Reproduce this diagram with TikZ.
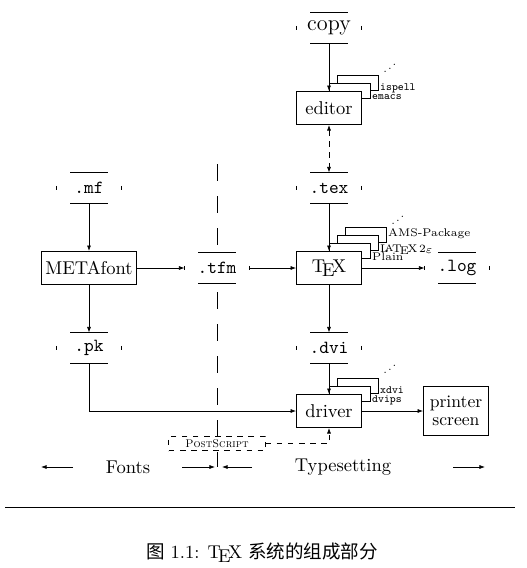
\documentclass[tikz,border=0pt]{standalone}
\usepackage{fontspec}
\usepackage{graphicx}
\newfontfamily\cjk{Noto Sans CJK SC}
\usetikzlibrary{arrows.meta,calc,positioning}
\pgfdeclarelayer{bg}
\pgfsetlayers{bg,main}

\tikzset{
  box/.style={draw, fill=white, minimum width=35pt, minimum height=17.8pt, inner sep=2pt},
  file/.style={minimum width=34.6pt, minimum height=16.2pt, inner sep=0pt,
    append after command={\pgfextra{
      \draw ($(\tikzlastnode.north west)+(7.5pt,0pt)$) -- ($(\tikzlastnode.north east)+(-7.5pt,0pt)$)
            ($(\tikzlastnode.south west)+(7.5pt,0pt)$) -- ($(\tikzlastnode.south east)+(-7.5pt,0pt)$)
            ($(\tikzlastnode.west)+(0pt,1.1pt)$) -- ($(\tikzlastnode.west)+(0pt,-1.1pt)$)
            ($(\tikzlastnode.east)+(0pt,1.1pt)$) -- ($(\tikzlastnode.east)+(0pt,-1.1pt)$);}}},
  tool/.style={anchor=base west, inner sep=0pt, font=\fontsize{6}{7}\selectfont\ttfamily},
  pkg/.style={anchor=base west, inner sep=0pt, font=\fontsize{6}{7}\selectfont},
  more/.style={inner sep=0pt}
}

\begin{document}
\begin{tikzpicture}[x=0.54pt, y=-0.54pt, line width=0.5pt, >={Latex[length=3pt,width=2.2pt]}]
  \useasboundingbox (0,0) rectangle (526,568);

  % typesetting side
  \node[file, font=\large] (copy) at (329,28) {copy};
  \node[box] (editor) at (329,108) {editor};
  \node[file] (tex) at (329,188) {\texttt{.tex}};
  \node[box] (TeX) at (329,268) {\TeX};
  \node[file] (log) at (457,268) {\texttt{.log}};
  \node[file] (dvi) at (329,348) {\texttt{.dvi}};
  \node[box] (driver) at (329,411) {driver};
  \node[box, minimum height=26.5pt, align=center, font=\fontsize{9.5}{9.5}\selectfont] (printer) at (456,411) {printer\\screen};

  % fonts side
  \node[file] (mf) at (89,188) {\texttt{.mf}};
  \node[box] (metafont) at (89,268) {METAfont};
  \node[file] (tfm) at (217,268) {\texttt{.tfm}};
  \node[file] (pk) at (89,348) {\texttt{.pk}};
  \node[draw, dashed, fill=white, minimum width=52pt, minimum height=8pt, inner sep=1pt,
        font=\fontsize{6}{7}\selectfont] (ps) at (217,443.5) {\textsc{PostScript}};

  \coordinate (divtop) at (217,164);
  \coordinate (divbot) at (217,467);

  % stacked programs behind the boxes
  \begin{pgfonlayer}{bg}
    \draw[dash pattern=on 9.2pt off 8.1pt] (divtop) -- (divbot);
    \fill[white] (tfm.south west) rectangle (tfm.north east);
    \foreach \k/\dy/\lab in {2/0/ispell,1/1/emacs} {
      \draw[fill=white] ($(editor.north)+(8*\k-8,-8*\k)$) rectangle ($(editor.north east)+(8*\k,15-8*\k)$);
      \node[tool] (ed\k) at ($(editor.north east)+(8*\k+2,15-8*\k+\dy)$) {\lab};
    }
    \foreach \k/\dy/\lab in {3/-6/AMS-Package,2/2/\LaTeXe,1/2/Plain} {
      \draw[fill=white] ($(TeX.north)+(8*\k-8,-8*\k)$) rectangle ($(TeX.north east)+(8*\k,15-8*\k)$);
      \node[pkg] (fmt\k) at ($(TeX.north east)+(8*\k+2,15-8*\k+\dy)$) {\lab};
    }
    \foreach \k/\dy/\lab in {2/0/xdvi,1/1/dvips} {
      \draw[fill=white] ($(driver.north)+(8*\k-8,-8*\k)$) rectangle ($(driver.north east)+(8*\k,15-8*\k)$);
      \node[tool] (drv\k) at ($(driver.north east)+(8*\k+2,15-8*\k+\dy)$) {\lab};
    }
  \end{pgfonlayer}
  \node[more] (eddots) at ($(editor.north east)+(28,-26)$) {\scalebox{0.65}{\reflectbox{$\ddots$}}};
  \node[more] (fmtdots) at ($(TeX.north east)+(36,-34)$) {\scalebox{0.65}{\reflectbox{$\ddots$}}};
  \node[more] (drvdots) at ($(driver.north east)+(28,-28)$) {\scalebox{0.65}{\reflectbox{$\ddots$}}};

  % connections
  \draw[->] (copy) -- (editor);
  \draw[<->, dashed] (editor) -- (tex);
  \draw[->] (tex) -- (TeX);
  \draw[->] (TeX) -- (log);
  \draw[->] (TeX) -- (dvi);
  \draw[->] (dvi) -- (driver);
  \draw[->] (driver) -- (printer);
  \draw[->] (mf) -- (metafont);
  \draw[->] (metafont) -- (tfm);
  \draw[->] (tfm) -- (TeX);
  \draw[->] (metafont) -- (pk);
  \draw[->] (pk) |- (driver);
  \draw[->, dashed] (ps) -| (driver);

  % the two halves
  \node (fonts) at (128,467) {Fonts};
  \node (typeset) at (343,467) {Typesetting};
  \coordinate (fonts-a) at (73,467);
  \coordinate (fonts-b) at (41,467);
  \coordinate (fonts-c) at (182,467);
  \coordinate (fonts-d) at (215,467);
  \coordinate (type-a) at (252,467);
  \coordinate (type-b) at (222,467);
  \coordinate (type-c) at (453,467);
  \coordinate (type-d) at (485,467);
  \draw[->] (fonts-a) -- (fonts-b);
  \draw[->] (fonts-c) -- (fonts-d);
  \draw[->] (type-a) -- (type-b);
  \draw[->] (type-c) -- (type-d);

  \coordinate (rule-l) at (5,507);
  \coordinate (rule-r) at (515,507);
  \draw (rule-l) -- (rule-r);
  \node (caption) at (262,553) {{\cjk 图} 1.1: \TeX{} {\cjk 系统的组成部分}};
\end{tikzpicture}
\end{document}
